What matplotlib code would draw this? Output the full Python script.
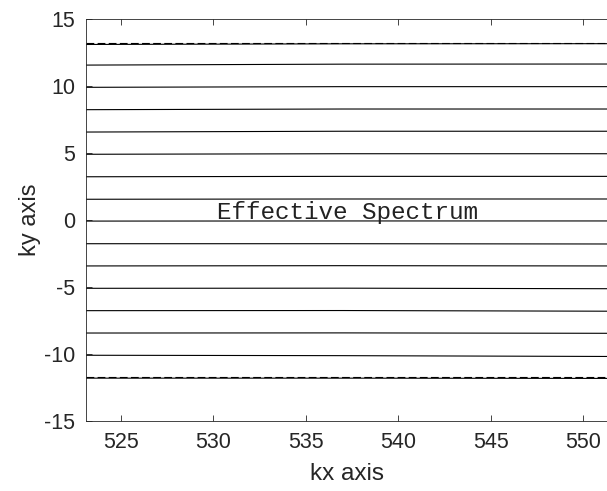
import numpy as np
import matplotlib
matplotlib.use('Agg')
import matplotlib.pyplot as plt

# kx positions where each ky line was read (left edge, middle, right edge)
kx_pts = [523.1, 537.0, 551.3]

# solid contour lines, ky values read at the three kx positions
ky_left = [13.12, 11.58, 9.92, 8.25, 6.58, 4.92, 3.24, 1.56, -0.07, -1.76,
           -3.42, -5.09, -6.76, -8.43, -10.09, -11.80]
ky_mid = [13.17, 11.65, 9.97, 8.30, 6.64, 4.96, 3.27, 1.58, -0.06, -1.76,
          -3.40, -5.08, -6.75, -8.42, -10.12, -11.80]
ky_right = [13.18, 11.66, 9.97, 8.30, 6.64, 4.96, 3.27, 1.58, -0.06, -1.78,
            -3.42, -5.12, -6.80, -8.45, -10.18, -11.82]

# dashed limits of the effective spectrum
ky_limits = [13.22, -11.73]

xticks = [525, 530, 535, 540, 545, 550]
yticks = [-15, -10, -5, 0, 5, 10, 15]

plt.rcParams['font.family'] = ['Liberation Sans', 'DejaVu Sans']
plt.rcParams['axes.unicode_minus'] = False

fig = plt.figure(figsize=(6.07, 4.91), dpi=100)
ax = fig.add_axes([86.3 / 607, 70 / 491, (607 - 86.3) / 607, (421 - 19.3) / 491])

for a, b, c in zip(ky_left, ky_mid, ky_right):
    ax.plot(kx_pts, [a, b, c], color='black', lw=0.8)

for ky in ky_limits:
    ax.plot([kx_pts[0], kx_pts[-1]], [ky, ky], color='black', lw=0.8, dashes=(7, 3))

ax.text(530.2, 0.05, 'Effective Spectrum', family='Liberation Mono', fontsize=17.5,
        ha='left', va='baseline', color='#222222')

ax.set_xlim(523.12, 551.3)
ax.set_ylim(-15, 15)
ax.set_xticks(xticks)
ax.set_yticks(yticks)
ax.tick_params(direction='in', length=4.5, width=0.6, top=True, right=False,
               labelsize=15.5, colors='#262626', pad=8)
for side in ['left', 'bottom', 'top']:
    ax.spines[side].set_color('#262626')
    ax.spines[side].set_linewidth(0.6)
ax.spines['right'].set_visible(False)

ax.set_xlabel('kx axis', fontsize=17.5, color='#262626', labelpad=7)
ax.set_ylabel('ky axis', fontsize=17, color='#262626', labelpad=2)

fig.savefig('out.png', dpi=100)
